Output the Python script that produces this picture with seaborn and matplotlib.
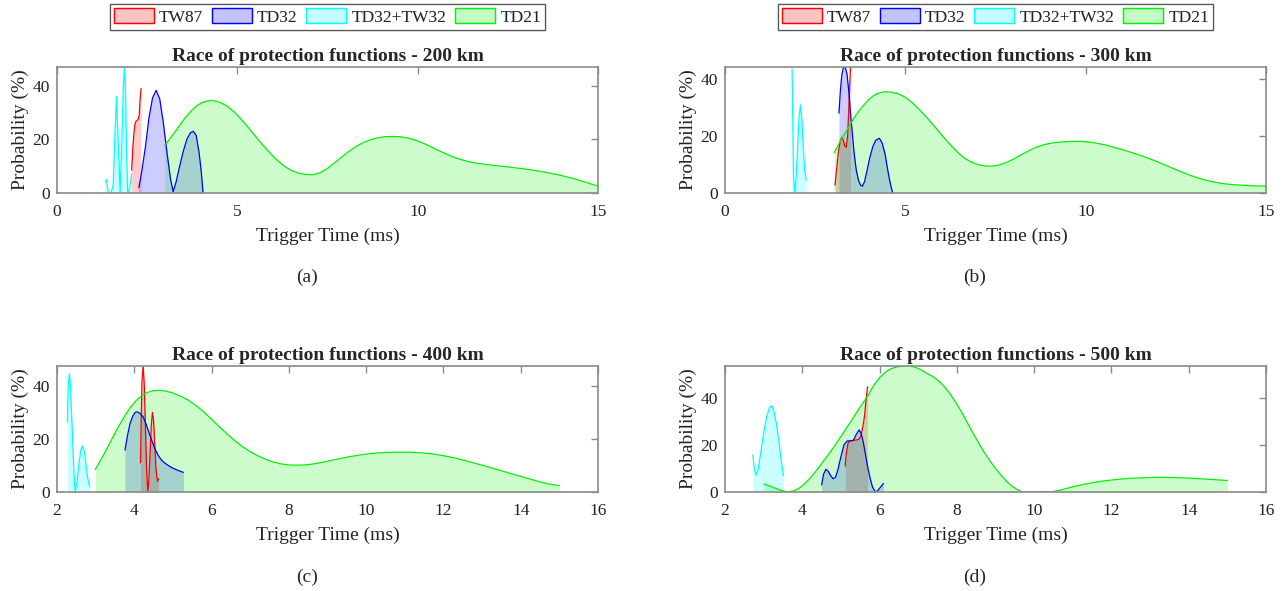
import matplotlib
matplotlib.use("Agg")
import matplotlib.pyplot as plt
from matplotlib.patches import Patch
from matplotlib.colors import to_rgba
import seaborn as sns

sns.set_theme(style="white")
plt.rcParams['font.family'] = ['Liberation Serif', 'DejaVu Serif']

# ---------------------------
# 1. Data (trigger time in ms, probability in %)
# ---------------------------
names = ["TW87", "TD32", "TD32+TW32", "TD21"]
colors = ["#ff0000", "#0000ff", "#00ffff", "#00f000"]
titles = ["Race of protection functions - 200 km", "Race of protection functions - 300 km",
          "Race of protection functions - 400 km", "Race of protection functions - 500 km"]
panel_tags = ["(a)", "(b)", "(c)", "(d)"]
xticks_ab = [0, 5, 10, 15]
xticks_cd = [2, 4, 6, 8, 10, 12, 14, 16]
yticks = [0, 20, 40]

# (a) 200 km
a_tw87_x = [2.07, 2.10, 2.13, 2.16, 2.19, 2.22, 2.25, 2.28, 2.30, 2.33]
a_tw87_y = [8.5, 16, 22, 25.5, 26.8, 27, 27.5, 29, 34, 39]
a_td32_x = [2.27, 2.35, 2.45, 2.55, 2.65, 2.75, 2.85, 2.95, 3.05, 3.15, 3.22, 3.30, 3.40,
            3.50, 3.60, 3.70, 3.78, 3.86, 3.94, 4.00, 4.05]
a_td32_y = [2, 8, 17, 28, 35.5, 38.3, 35, 26, 15, 5, 0.5, 4, 10, 15.5, 20, 22.5, 23,
            21.5, 15, 8, 0]
a_mix_x = [1.35, 1.37, 1.40, 1.43, 1.50, 1.56, 1.60, 1.65, 1.70, 1.75, 1.80, 1.84, 1.87,
           1.90, 1.93, 1.96, 2.00, 2.04, 2.07]
a_mix_y = [4.0, 5.0, 2.0, 0, 0, 3, 20, 36, 18, 0, 20, 40, 47, 38, 15, 0, 1, 4, 7]
a_td21_x = [2.99, 3.15, 3.3, 3.45, 3.6, 3.75, 3.9, 4.05, 4.2, 4.35, 4.5, 4.7, 4.9, 5.1,
            5.3, 5.5, 5.7, 5.9, 6.1, 6.3, 6.5, 6.7, 6.9, 7.1, 7.3, 7.5, 7.7, 7.9, 8.1,
            8.3, 8.5, 8.7, 8.9, 9.1, 9.3, 9.5, 9.7, 9.9, 10.1, 10.3, 10.5, 10.7, 10.9,
            11.1, 11.3, 11.5, 11.8, 12.1, 12.4, 12.7, 13.0, 13.3, 13.6, 13.9, 14.2, 14.5,
            14.8, 15.0]
a_td21_y = [17.8, 20.6, 23.3, 26.2, 28.8, 31.0, 32.8, 33.9, 34.4, 34.4, 33.9, 32.6, 30.4,
            27.6, 24.5, 21.2, 18.0, 15.0, 12.3, 10.0, 8.4, 7.4, 6.9, 6.8, 7.6, 9.2, 11.3,
            13.5, 15.6, 17.4, 18.9, 19.9, 20.6, 21.0, 21.1, 21.0, 20.6, 19.9, 18.9, 17.7,
            16.4, 15.1, 13.9, 12.9, 12.1, 11.4, 10.8, 10.3, 9.9, 9.4, 8.9, 8.3, 7.6, 6.8,
            5.8, 4.7, 3.4, 2.6]

# (b) 300 km
b_tw87_x = [3.05, 3.10, 3.15, 3.20, 3.24, 3.28, 3.32, 3.36, 3.40, 3.44, 3.48]
b_tw87_y = [2.7, 9, 15, 18.5, 19.5, 18.5, 16.5, 16, 20, 32, 44]
b_td32_x = [3.16, 3.20, 3.24, 3.28, 3.33, 3.38, 3.43, 3.48, 3.53, 3.58, 3.64, 3.70, 3.76,
            3.81, 3.87, 3.94, 4.02, 4.10, 4.18, 4.28, 4.36, 4.44, 4.52, 4.58, 4.65]
b_td32_y = [28, 36, 41.5, 43.8, 44.2, 42, 36, 28, 21, 14, 8, 4.5, 2.7, 2.4, 4, 8, 12.7,
            16.3, 18.5, 19.2, 17.5, 13.5, 7.5, 3.5, 0]
b_mix_x = [1.86, 1.88, 1.90, 1.93, 1.97, 2.01, 2.05, 2.09, 2.13, 2.17, 2.21, 2.25]
b_mix_y = [43.5, 25, 6, 0, 5, 15, 26, 30.9, 26, 16, 8, 4.5]
b_td21_x = [3.03, 3.2, 3.4, 3.6, 3.8, 4.0, 4.2, 4.4, 4.6, 4.8, 5.0, 5.2, 5.4, 5.6, 5.8,
            6.0, 6.2, 6.4, 6.6, 6.8, 7.0, 7.2, 7.4, 7.6, 7.8, 8.0, 8.2, 8.4, 8.6, 8.8,
            9.0, 9.3, 9.6, 9.9, 10.2, 10.5, 10.8, 11.1, 11.4, 11.7, 12.0, 12.3, 12.6,
            12.9, 13.2, 13.5, 13.8, 14.1, 14.4, 14.7, 15.0]
b_td21_y = [14.1, 18.3, 22.5, 26.8, 30.2, 33.0, 34.8, 35.5, 35.4, 34.8, 33.6, 31.6, 29.1,
            26.4, 23.5, 20.5, 17.6, 14.9, 12.6, 11.0, 10.0, 9.5, 9.4, 9.8, 10.7, 11.9,
            13.3, 14.7, 15.9, 16.8, 17.4, 17.9, 18.1, 18.1, 17.7, 17.0, 16.0, 14.9, 13.7,
            12.4, 10.9, 9.3, 7.7, 6.2, 4.9, 4.0, 3.3, 2.9, 2.7, 2.5, 2.4]

# (c) 400 km
c_tw87_x = [4.16, 4.18, 4.20, 4.23, 4.26, 4.29, 4.32, 4.35, 4.38, 4.41, 4.44, 4.47, 4.50,
            4.53, 4.56, 4.60, 4.63]
c_tw87_y = [11, 28, 42, 47.5, 40, 24, 8, 0, 5, 15, 25, 30, 27, 18, 9, 4, 5]
c_td32_x = [3.76, 3.82, 3.89, 3.96, 4.03, 4.08, 4.15, 4.23, 4.31, 4.39, 4.47, 4.55, 4.63,
            4.72, 4.80, 4.90, 5.01, 5.14, 5.27]
c_td32_y = [15.8, 21, 25.8, 28.6, 30.1, 30.2, 29.6, 28.3, 25.4, 22, 18.7, 15.8, 13.5,
            11.8, 10.8, 9.8, 8.9, 8.1, 7.4]
c_mix_x = [2.27, 2.29, 2.32, 2.35, 2.39, 2.43, 2.47, 2.52, 2.57, 2.62, 2.66, 2.71, 2.76,
           2.81, 2.85]
c_mix_y = [26.4, 40, 44.6, 40, 25, 10, 0, 4, 11, 16, 17.4, 15, 9, 4, 2]
c_td21_x = [2.99, 3.15, 3.3, 3.45, 3.6, 3.75, 3.9, 4.05, 4.2, 4.35, 4.5, 4.65, 4.8, 5.0,
            5.2, 5.4, 5.6, 5.8, 6.0, 6.2, 6.4, 6.6, 6.8, 7.0, 7.2, 7.4, 7.6, 7.8, 8.0,
            8.2, 8.4, 8.6, 8.8, 9.0, 9.3, 9.6, 9.9, 10.2, 10.5, 10.8, 11.1, 11.4, 11.7,
            12.0, 12.3, 12.6, 12.9, 13.2, 13.5, 13.8, 14.1, 14.4, 14.7, 15.0]
c_td21_y = [8.5, 12.5, 16.6, 20.8, 24.9, 28.6, 31.9, 34.5, 36.4, 37.6, 38.2, 38.3, 38.1,
            37.3, 36.1, 34.6, 32.6, 30.2, 27.4, 24.6, 21.9, 19.4, 17.1, 15.2, 13.6, 12.3,
            11.3, 10.6, 10.2, 10.1, 10.2, 10.5, 11.0, 11.6, 12.5, 13.4, 14.1, 14.6, 14.9,
            15.0, 15.0, 14.8, 14.4, 13.7, 12.8, 11.7, 10.5, 9.3, 8.0, 6.7, 5.5, 4.2, 3.1,
            2.4]

# (d) 500 km
d_tw87_x = [5.11, 5.14, 5.18, 5.22, 5.28, 5.34, 5.40, 5.46, 5.52, 5.57, 5.61, 5.65, 5.69]
d_tw87_y = [11, 16.5, 20.5, 21.5, 21.8, 22, 22, 22.3, 24, 28, 32, 39, 44.6]
d_td32_x = [4.50, 4.55, 4.61, 4.67, 4.74, 4.80, 4.86, 4.93, 5.00, 5.08, 5.16, 5.24, 5.32,
            5.40, 5.47, 5.52, 5.58, 5.64, 5.70, 5.76, 5.82, 5.89, 5.95, 6.02, 6.10]
d_td32_y = [3, 7.5, 9.6, 8.8, 6.8, 5.6, 6.2, 10, 15, 20, 21.6, 21.7, 21.8, 24.5, 26.3,
            25, 21, 15.5, 10, 5.5, 2, 0, 0.5, 2, 3.6]
d_mix_x = [2.72, 2.76, 2.80, 2.85, 2.92, 3.00, 3.08, 3.15, 3.21, 3.27, 3.33, 3.39, 3.45,
           3.51]
d_mix_y = [15.7, 10, 7.2, 9, 16, 25, 32, 35.8, 36.6, 34, 29, 22, 14, 7]
d_td21_x = [3.01, 3.15, 3.3, 3.45, 3.6, 3.75, 3.9, 4.05, 4.2, 4.35, 4.5, 4.65, 4.8, 4.95,
            5.1, 5.25, 5.4, 5.55, 5.7, 5.85, 6.0, 6.15, 6.3, 6.45, 6.6, 6.75, 6.9, 7.05,
            7.2, 7.35, 7.5, 7.65, 7.8, 7.95, 8.1, 8.25, 8.4, 8.55, 8.7, 8.85, 9.0, 9.15,
            9.3, 9.45, 9.6, 9.7, 10.45, 10.7, 11.0, 11.3, 11.6, 11.9, 12.2, 12.5, 12.8,
            13.1, 13.4, 13.7, 14.0, 14.3, 14.6, 15.0]
d_td21_y = [3.4, 2.6, 1.6, 0.7, 0.1, 0.3, 1.4, 3.3, 5.8, 8.8, 12.0, 15.3, 18.7, 22.3,
            26.0, 29.8, 33.6, 37.3, 40.9, 45.2, 48.5, 50.8, 52.3, 53.0, 53.4, 53.4, 53.0,
            52.0, 50.5, 49.2, 47.5, 45.2, 42.2, 38.5, 34.5, 30.0, 25.5, 21.2, 17.0, 13.3,
            10.0, 7.0, 4.3, 2.2, 0.7, 0, 0, 0.9, 2.2, 3.3, 4.2, 4.9, 5.4, 5.8, 6.0, 6.2,
            6.2, 6.1, 5.9, 5.6, 5.3, 4.9]

panels = [
    [(a_tw87_x, a_tw87_y), (a_td32_x, a_td32_y), (a_mix_x, a_mix_y), (a_td21_x, a_td21_y)],
    [(b_tw87_x, b_tw87_y), (b_td32_x, b_td32_y), (b_mix_x, b_mix_y), (b_td21_x, b_td21_y)],
    [(c_tw87_x, c_tw87_y), (c_td32_x, c_td32_y), (c_mix_x, c_mix_y), (c_td21_x, c_td21_y)],
    [(d_tw87_x, d_tw87_y), (d_td32_x, d_td32_y), (d_mix_x, d_mix_y), (d_td21_x, d_td21_y)],
]

# ---------------------------
# 2. Figure layout (2x2, MATLAB-like)
# ---------------------------
W, H = 1288, 591
fig = plt.figure(figsize=(W / 100, H / 100), dpi=100)
fig.patch.set_facecolor("white")

# axes boxes in pixels: left, top, right, bottom
boxes = [(57, 67, 598, 193), (725, 67, 1266, 193),
         (57, 366, 598, 492), (725, 366, 1266, 492)]
tag_pos = [(307, 277), (975, 277), (307, 577), (975, 577)]
frame_col = "#8a8a8a"

for i, (l, t, r, b) in enumerate(boxes):
    ax = fig.add_axes([l / W, 1 - b / H, (r - l) / W, (b - t) / H])
    ymax = 0
    for (x, y), name, col in zip(panels[i], names, colors):
        sns.lineplot(x=x, y=y, color=col, lw=0.9, sort=False, estimator=None, ax=ax)
        ax.fill_between(x, y, 0, color=col, alpha=0.2, lw=0)
        ymax = max(ymax, max(y))

    if i < 2:
        ax.set_xlim(0, 15)
        ax.set_xticks(xticks_ab)
    else:
        ax.set_xlim(2, 16)
        ax.set_xticks(xticks_cd)
    ax.set_ylim(0, ymax)
    ax.set_yticks(yticks)

    for s in ax.spines.values():
        s.set_color(frame_col)
        s.set_linewidth(1.2)
        s.set_zorder(5)
    ax.tick_params(direction="in", length=5, width=1, color=frame_col,
                   top=True, right=True, labelsize=12.5, labelcolor="#222222")
    ax.tick_params(axis="x", pad=8)
    ax.tick_params(axis="y", pad=5)

    ax.set_title(titles[i], fontsize=14, fontweight="bold", pad=4)
    ax.set_xlabel("Trigger Time (ms)", fontsize=14, color="#222222")
    ax.set_ylabel("Probability (%)", fontsize=14, color="#222222")
    ax.xaxis.set_label_coords(0.5, -0.275)
    ax.yaxis.set_label_coords(-0.052, 0.5)

    handles = [Patch(facecolor=to_rgba(c, 0.2), edgecolor=c, lw=1) for c in colors]
    leg = ax.legend(handles, names, loc="center", bbox_to_anchor=(0.5, (b - 17) / (b - t)),
                    ncol=4, fontsize=12.5, frameon=True, fancybox=False,
                    handlelength=2.3, handleheight=0.9, handletextpad=0.3,
                    columnspacing=0.5, borderpad=0.25, borderaxespad=0)
    leg.get_frame().set_edgecolor("#444444")
    leg.get_frame().set_linewidth(0.9)

    fig.text(tag_pos[i][0] / W, 1 - tag_pos[i][1] / H, panel_tags[i],
             ha="center", va="center", fontsize=14)

plt.savefig("out.png", dpi=100)
